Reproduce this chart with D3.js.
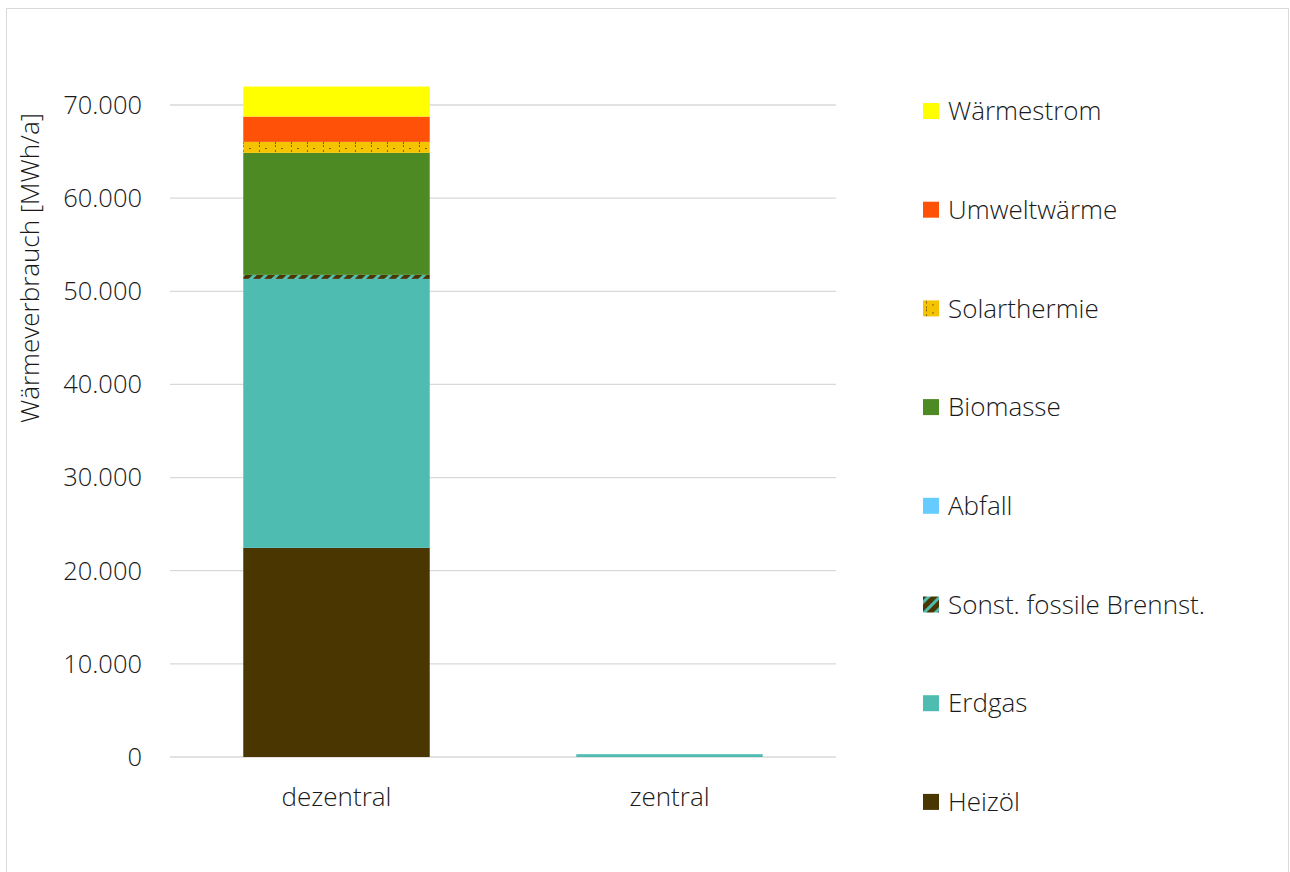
<!DOCTYPE html>
<html>
<head>
<meta charset="utf-8">
<script src="https://cdn.jsdelivr.net/npm/d3@7"></script>
<style>
  body { margin: 0; background: #fff; }
  svg text { font-family: "Open Sans", "Noto Sans", sans-serif; font-weight: 300; fill: #1a1a1a; }
</style>
</head>
<body>
<svg id="chart" width="1290" height="872"></svg>
<script>
// categories and series (MWh/a)
const categories = ['dezentral', 'zentral'];
const seriesNames = ['Heizöl', 'Erdgas', 'Sonst. fossile Brennst.', 'Abfall', 'Biomasse', 'Solarthermie', 'Umweltwärme', 'Wärmestrom'];
const heizoel = [22450, 0];
const erdgas = [28880, 300];
const sonstFossil = [430, 0];
const abfall = [0, 0];
const biomasse = [13100, 0];
const solarthermie = [1180, 0];
const umweltwaerme = [2720, 0];
const waermestrom = [3220, 0];
const yTicks = [0, 10000, 20000, 30000, 40000, 50000, 60000, 70000];

const seriesValues = [heizoel, erdgas, sonstFossil, abfall, biomasse, solarthermie, umweltwaerme, waermestrom];
const fills = ['#493600', '#4fbcb2', 'url(#hatchSonst)', '#66ccff', '#4e8a23', 'url(#dotsSolar)', '#ff5208', '#ffff00'];

const svg = d3.select('#chart');

// outer frame
svg.append('rect')
  .attr('x', 6.5).attr('y', 8.5)
  .attr('width', 1282).attr('height', 870)
  .attr('fill', '#fff').attr('stroke', '#d9d9d9').attr('stroke-width', 1);

// patterns
const defs = svg.append('defs');
const hatch = defs.append('pattern')
  .attr('id', 'hatchSonst')
  .attr('patternUnits', 'userSpaceOnUse')
  .attr('width', 8).attr('height', 8)
  .attr('patternTransform', 'rotate(45)');
hatch.append('rect').attr('width', 8).attr('height', 8).attr('fill', '#4fbcb2');
hatch.append('rect').attr('width', 5).attr('height', 8).attr('fill', '#493600');

const dots = defs.append('pattern')
  .attr('id', 'dotsSolar')
  .attr('patternUnits', 'userSpaceOnUse')
  .attr('width', 16).attr('height', 8);
dots.append('rect').attr('width', 16).attr('height', 8).attr('fill', '#f5c400');
dots.append('rect').attr('x', 3).attr('y', 1).attr('width', 1).attr('height', 2).attr('fill', '#8a5a00');
dots.append('rect').attr('x', 9).attr('y', 4).attr('width', 2).attr('height', 1).attr('fill', '#8a5a00');
dots.append('rect').attr('x', 3).attr('y', 6).attr('width', 1).attr('height', 2).attr('fill', '#8a5a00');

const plot = { left: 170, right: 836, top: 105, bottom: 757 };

const x = d3.scaleBand()
  .domain(categories)
  .range([plot.left, plot.right])
  .paddingInner(0.44)
  .paddingOuter(0.22);

const y = d3.scaleLinear()
  .domain([0, 70000])
  .range([plot.bottom, plot.top]);

// gridlines
svg.append('g')
  .selectAll('line')
  .data(yTicks)
  .join('line')
  .attr('x1', plot.left).attr('x2', plot.right)
  .attr('y1', d => y(d)).attr('y2', d => y(d))
  .attr('stroke', '#d9d9d9').attr('stroke-width', 1.3);

// y axis labels
const fmt = d => d === 0 ? '0' : d3.format(',')(d).replace(/,/g, '.');
svg.append('g')
  .selectAll('text')
  .data(yTicks)
  .join('text')
  .attr('x', 142)
  .attr('y', d => y(d))
  .attr('dy', '0.35em')
  .attr('text-anchor', 'end')
  .attr('font-size', 25.5)
  .text(fmt);

// stacked bars
const table = categories.map((c, i) => {
  const row = { category: c };
  seriesNames.forEach((s, j) => row[s] = seriesValues[j][i]);
  return row;
});
const stack = d3.stack().keys(seriesNames)(table);

svg.append('g')
  .selectAll('g')
  .data(stack)
  .join('g')
  .attr('fill', (d, i) => fills[i])
  .selectAll('rect')
  .data(d => d)
  .join('rect')
  .attr('x', d => x(d.data.category))
  .attr('width', x.bandwidth())
  .attr('y', d => y(d[1]))
  .attr('height', d => Math.max(0, y(d[0]) - y(d[1])));

// category labels
svg.append('g')
  .selectAll('text')
  .data(categories)
  .join('text')
  .attr('x', d => x(d) + x.bandwidth() / 2)
  .attr('y', 797)
  .attr('dy', '0.35em')
  .attr('text-anchor', 'middle')
  .attr('font-size', 26)
  .text(d => d);

// y axis title
svg.append('text')
  .attr('transform', 'translate(30,268) rotate(-90)')
  .attr('text-anchor', 'middle')
  .attr('dy', '0.35em')
  .attr('font-size', 26)
  .text('Wärmeverbrauch [MWh/a]');

// legend (reverse order, top = Wärmestrom)
const legendItems = seriesNames.map((s, i) => ({ name: s, fill: fills[i] })).reverse();
const legend = svg.append('g')
  .selectAll('g')
  .data(legendItems)
  .join('g')
  .attr('transform', (d, i) => `translate(923, ${111 + i * 98.7})`);
legend.append('rect')
  .attr('x', 0).attr('y', -8)
  .attr('width', 16).attr('height', 16)
  .attr('fill', d => d.fill);
legend.append('text')
  .attr('x', 25)
  .attr('y', 0)
  .attr('dy', '0.35em')
  .attr('font-size', 26)
  .text(d => d.name);
</script>
</body>
</html>
